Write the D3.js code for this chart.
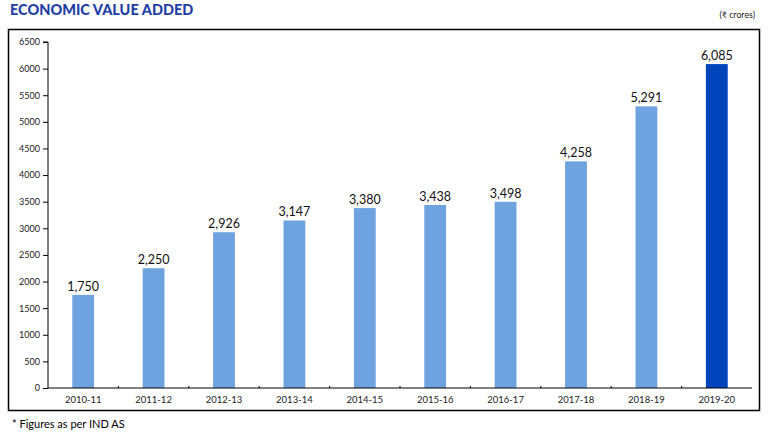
<!DOCTYPE html>
<html><head><meta charset="utf-8">
<script src="https://cdn.jsdelivr.net/npm/d3@7"></script>
<style>body{margin:0;background:#fff;}svg{display:block;font-family:Lato,"Open Sans",sans-serif;}</style>
</head><body><svg id="c" width="779" height="441"></svg>
<script>
const categories = ["2010-11","2011-12","2012-13","2013-14","2014-15","2015-16","2016-17","2017-18","2018-19","2019-20"];
const values = [1750,2250,2926,3147,3380,3438,3498,4258,5291,6085];
const yTicks = [0,500,1000,1500,2000,2500,3000,3500,4000,4500,5000,5500,6000,6500];

const svg = d3.select("#c");
const m = {l:48, r:27, t:42, b:53};
const W = 779, H = 441;
const x = d3.scaleBand().domain(categories).range([m.l, W - m.r]).paddingInner(0.69).paddingOuter(0.345);
const xb = d3.scaleBand().domain(categories).range([m.l, W - m.r]);
const y = d3.scaleLinear().domain([0,6500]).range([H - m.b, m.t]);

svg.append("rect").attr("x",8.5).attr("y",29.5).attr("width",751).attr("height",381)
  .attr("fill","none").attr("stroke","#000").attr("stroke-width",1.5);

svg.append("text").attr("x",10).attr("y",15).attr("fill","#1f3ea6").attr("font-weight","900")
  .attr("font-size",14.5).text("ECONOMIC VALUE ADDED");
svg.append("text").attr("x",755).attr("y",18).attr("text-anchor","end").attr("font-size",8.8).attr("fill","#222").text("(₹ crores)");
svg.append("text").attr("x",12).attr("y",428).attr("font-size",11).attr("fill","#000").text("* Figures as per IND AS");

// bars
svg.selectAll("rect.bar").data(values).enter().append("rect")
  .attr("x",(d,i)=>x(categories[i])).attr("width",x.bandwidth())
  .attr("y",d=>y(d)).attr("height",d=>y(0)-y(d))
  .attr("fill",(d,i)=> i===categories.length-1 ? "#0044bb" : "#6fa3e0");

svg.selectAll("text.val").data(values).enter().append("text")
  .attr("x",(d,i)=>x(categories[i])+x.bandwidth()/2).attr("y",d=>y(d)-4)
  .attr("text-anchor","middle").attr("font-size",12.5).attr("fill","#111")
  .text(d=>d3.format(",")(d));

// y axis
const ya = svg.append("g").attr("transform",`translate(${m.l},0)`)
  .call(d3.axisLeft(y).tickValues(yTicks).tickSize(5).tickPadding(3).tickFormat(d3.format("d")));
ya.selectAll("text").attr("font-size",9).attr("fill","#222").attr("font-family","Lato,'Open Sans',sans-serif");
ya.selectAll("line, path").attr("stroke","#000");
ya.select("path").attr("d",`M-5,${y(6500)}H0V${y(0)}`);

// x axis
const xa = svg.append("g").attr("transform",`translate(0,${y(0)})`)
  .call(d3.axisBottom(xb).tickSize(0).tickPadding(8));
xa.selectAll("text").attr("font-size",9.5).attr("fill","#222").attr("font-family","Lato,'Open Sans',sans-serif");
xa.select("path").attr("stroke","#000").attr("d",`M${m.l},0H${W-m.r}`);
svg.append("g").selectAll("line").data(categories.slice(1)).enter().append("line")
  .attr("x1",d=>xb(d)).attr("x2",d=>xb(d)).attr("y1",y(0)).attr("y2",y(0)-2).attr("stroke","#000");
</script></body></html>
